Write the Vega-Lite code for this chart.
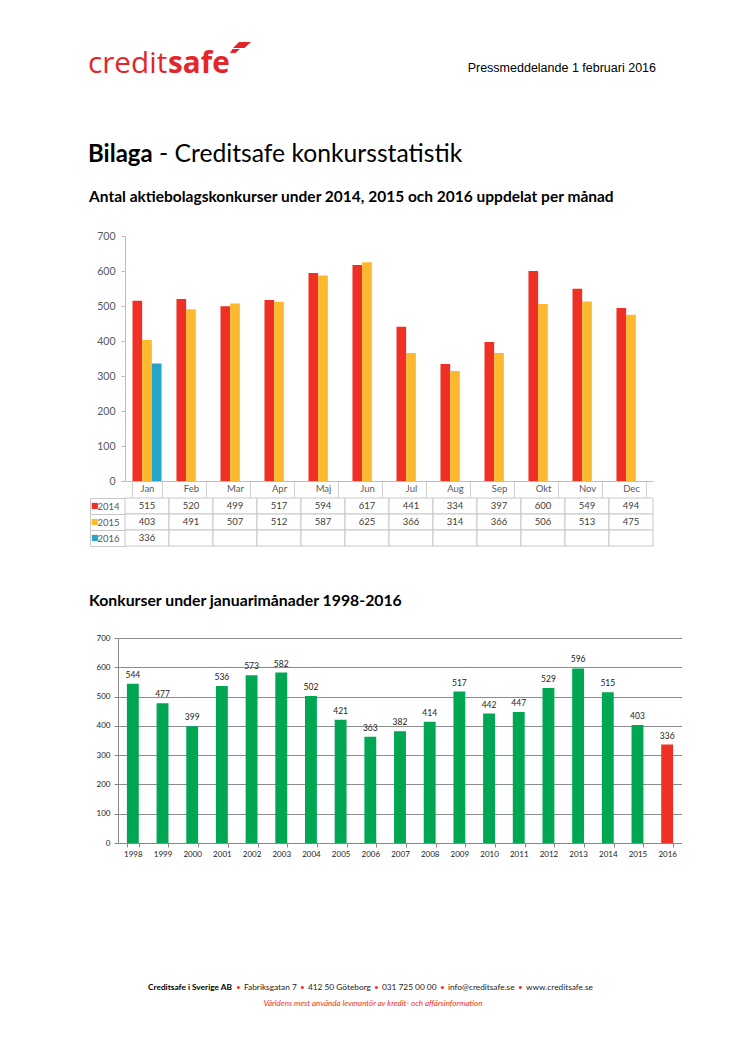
{
  "$schema": "https://vega.github.io/schema/vega-lite/v6.json",
  "padding": {"left": 88, "top": 42, "right": 0, "bottom": 0},
  "autosize": {"type": "pad"},
  "background": "#ffffff",
  "config": {
    "view": {"stroke": null},
    "title": {"offset": 0, "baseline": "alphabetic", "anchor": "start", "frame": "group"}
  },
  "datasets": {
    "blank": [{}],
    "monthly": [
      {"month": "Jan", "year": "2014", "value": 515}, {"month": "Feb", "year": "2014", "value": 520},
      {"month": "Mar", "year": "2014", "value": 499}, {"month": "Apr", "year": "2014", "value": 517},
      {"month": "Maj", "year": "2014", "value": 594}, {"month": "Jun", "year": "2014", "value": 617},
      {"month": "Jul", "year": "2014", "value": 441}, {"month": "Aug", "year": "2014", "value": 334},
      {"month": "Sep", "year": "2014", "value": 397}, {"month": "Okt", "year": "2014", "value": 600},
      {"month": "Nov", "year": "2014", "value": 549}, {"month": "Dec", "year": "2014", "value": 494},
      {"month": "Jan", "year": "2015", "value": 403}, {"month": "Feb", "year": "2015", "value": 491},
      {"month": "Mar", "year": "2015", "value": 507}, {"month": "Apr", "year": "2015", "value": 512},
      {"month": "Maj", "year": "2015", "value": 587}, {"month": "Jun", "year": "2015", "value": 625},
      {"month": "Jul", "year": "2015", "value": 366}, {"month": "Aug", "year": "2015", "value": 314},
      {"month": "Sep", "year": "2015", "value": 366}, {"month": "Okt", "year": "2015", "value": 506},
      {"month": "Nov", "year": "2015", "value": 513}, {"month": "Dec", "year": "2015", "value": 475},
      {"month": "Jan", "year": "2016", "value": 336}, {"month": "Feb", "year": "2016", "value": null},
      {"month": "Mar", "year": "2016", "value": null}, {"month": "Apr", "year": "2016", "value": null},
      {"month": "Maj", "year": "2016", "value": null}, {"month": "Jun", "year": "2016", "value": null},
      {"month": "Jul", "year": "2016", "value": null}, {"month": "Aug", "year": "2016", "value": null},
      {"month": "Sep", "year": "2016", "value": null}, {"month": "Okt", "year": "2016", "value": null},
      {"month": "Nov", "year": "2016", "value": null}, {"month": "Dec", "year": "2016", "value": null}
    ],
    "jan": [
      {"year": "1998", "value": 544}, {"year": "1999", "value": 477}, {"year": "2000", "value": 399},
      {"year": "2001", "value": 536}, {"year": "2002", "value": 573}, {"year": "2003", "value": 582},
      {"year": "2004", "value": 502}, {"year": "2005", "value": 421}, {"year": "2006", "value": 363},
      {"year": "2007", "value": 382}, {"year": "2008", "value": 414}, {"year": "2009", "value": 517},
      {"year": "2010", "value": 442}, {"year": "2011", "value": 447}, {"year": "2012", "value": 529},
      {"year": "2013", "value": 596}, {"year": "2014", "value": 515}, {"year": "2015", "value": 403},
      {"year": "2016", "value": 336}
    ]
  },
  "spacing": 0,
  "vconcat": [
    {
      "spacing": 0,
      "hconcat": [
        {"width": 1, "height": 1, "data": {"name": "blank"}, "mark": {"type": "text", "text": "", "fontSize": 0.1}, "encoding": {},
         "title": {"text": "credit", "dy": 6, "font": "Open Sans", "fontSize": 29.7, "fontWeight": "normal", "color": "#E3262A"}},
        {"width": 1, "height": 1, "data": {"name": "blank"}, "mark": {"type": "text", "text": "", "fontSize": 0.1}, "encoding": {},
         "title": {"text": "safe", "dy": 6, "font": "Open Sans", "fontSize": 29.7, "fontWeight": "bold", "color": "#E3262A"}},
        {"width": 1, "height": 1, "data": {"name": "blank"},
         "mark": {"type": "point", "filled": true, "color": "#E3262A", "opacity": 1, "size": 400, "strokeWidth": 0,
                  "shape": "M 0.85 -3.65 L 2.05 -3.65 L 1.4 -3.05 L 0.25 -3.05 Z M 0.2 -2.95 L 0.95 -2.95 L 0.5 -2.55 L -0.05 -2.55 Z"},
         "encoding": {}},
        {"width": 405, "height": 64, "data": {"name": "blank"}, "mark": {"type": "text", "text": "", "fontSize": 0.1}, "encoding": {},
         "title": {"text": "Pressmeddelande 1 februari 2016", "anchor": "end", "font": "Liberation Sans", "fontSize": 12.5, "fontWeight": "normal", "color": "#000000"}}
      ]
    },
    {
      "spacing": 6,
      "hconcat": [
        {"width": 1, "height": 18, "data": {"name": "blank"}, "mark": {"type": "text", "text": "", "fontSize": 0.1}, "encoding": {},
         "title": {"text": "Bilaga", "font": "Lato", "fontSize": 24, "fontWeight": "bold", "color": "#000000"}},
        {"width": 1, "height": 18, "data": {"name": "blank"}, "mark": {"type": "text", "text": "", "fontSize": 0.1}, "encoding": {},
         "title": {"text": "- Creditsafe konkursstatistik", "font": "Lato", "fontSize": 24.7, "fontWeight": "normal", "color": "#000000"}}
      ]
    },
    {
      "spacing": 0,
      "hconcat": [
        {"width": 1, "height": 1, "data": {"name": "blank"}, "mark": {"type": "text", "text": "", "fontSize": 0.1}, "encoding": {}},
        {
          "spacing": -6,
          "vconcat": [
            {
              "title": {"text": "Antal aktiebolagskonkurser under 2014, 2015 och 2016 uppdelat per månad", "dx": -36, "offset": 26,
                        "font": "Lato", "fontSize": 15.5, "fontWeight": "bold", "color": "#000000"},
              "width": 528,
              "height": 245,
              "data": {"name": "monthly"},
              "mark": {"type": "bar"},
              "encoding": {
                "x": {"field": "month", "type": "nominal",
                      "sort": ["Jan", "Feb", "Mar", "Apr", "Maj", "Jun", "Jul", "Aug", "Sep", "Okt", "Nov", "Dec"],
                      "scale": {"paddingInner": 0.34, "paddingOuter": 0.17},
                      "axis": {"title": null, "labelAngle": 0, "tickBand": "extent", "tickSize": 16, "tickColor": "#D0D0D0",
                               "domainColor": "#BFBFBF", "labelPadding": -14, "labelBaseline": "top", "labelFont": "Lato",
                               "labelFontSize": 9.5, "labelColor": "#595959"}},
                "xOffset": {"field": "year", "type": "nominal", "scale": {"domain": ["2014", "2015", "2016"], "paddingInner": 0, "paddingOuter": 0}},
                "y": {"field": "value", "type": "quantitative", "scale": {"domain": [0, 700]},
                      "axis": {"title": null, "values": [0, 100, 200, 300, 400, 500, 600, 700], "grid": false, "tickSize": 4,
                               "tickColor": "#BFBFBF", "domainColor": "#BFBFBF", "labelPadding": 6, "labelFont": "Lato",
                               "labelFontSize": 10.5, "labelColor": "#595959"}},
                "color": {"field": "year", "type": "nominal",
                          "scale": {"domain": ["2014", "2015", "2016"], "range": ["#EE3124", "#FDB92E", "#27A5C9"]}, "legend": null}
              }
            },
            {
              "width": 528,
              "height": 48,
              "data": {"name": "monthly"},
              "layer": [
                {
                  "mark": {"type": "rect", "fill": "#ffffff", "stroke": "#C8C8C8", "strokeWidth": 1},
                  "encoding": {
                    "x": {"field": "month", "type": "nominal",
                          "sort": ["Jan", "Feb", "Mar", "Apr", "Maj", "Jun", "Jul", "Aug", "Sep", "Okt", "Nov", "Dec"],
                          "scale": {"paddingInner": 0, "paddingOuter": 0}, "axis": null},
                    "y": {"field": "year", "type": "nominal", "sort": ["2014", "2015", "2016"],
                          "scale": {"paddingInner": 0, "paddingOuter": 0},
                          "axis": {"title": null, "orient": "left", "domain": false, "tickBand": "extent", "tickSize": 35,
                                   "tickColor": "#C8C8C8", "labelPadding": -29, "labelFont": "Lato", "labelFontSize": 9.5,
                                   "labelColor": "#595959"}}
                  }
                },
                {
                  "transform": [{"filter": "isValid(datum.value)"}],
                  "mark": {"type": "text", "font": "Lato", "fontSize": 9.5, "color": "#404040"},
                  "encoding": {
                    "x": {"field": "month", "type": "nominal",
                          "sort": ["Jan", "Feb", "Mar", "Apr", "Maj", "Jun", "Jul", "Aug", "Sep", "Okt", "Nov", "Dec"]},
                    "y": {"field": "year", "type": "nominal", "sort": ["2014", "2015", "2016"],
                          "axis": {"title": null, "orient": "left", "offset": 35, "domain": true, "domainColor": "#C8C8C8",
                                   "ticks": false, "tickSize": 0, "labelExpr": "'■'", "labelPadding": -8, "labelFont": "DejaVu Sans",
                                   "labelFontSize": 8,
                                   "labelColor": {"condition": [{"test": "datum.value === '2014'", "value": "#EE3124"},
                                                                {"test": "datum.value === '2015'", "value": "#FDB92E"}],
                                                  "value": "#27A5C9"}}},
                    "text": {"field": "value", "type": "quantitative"}
                  }
                }
              ],
              "resolve": {"axis": {"y": "independent"}}
            }
          ]
        }
      ]
    },
    {"width": 1, "height": 46, "data": {"name": "blank"}, "mark": {"type": "text", "text": "", "fontSize": 0.1}, "encoding": {}},
    {
      "spacing": 0,
      "hconcat": [
        {"width": 1, "height": 1, "data": {"name": "blank"}, "mark": {"type": "text", "text": "", "fontSize": 0.1}, "encoding": {}},
        {
          "title": {"text": "Konkurser under januarimånader 1998-2016", "dx": -29, "offset": 24,
                    "font": "Lato", "fontSize": 15.8, "fontWeight": "bold", "color": "#000000"},
          "width": 564,
          "height": 205,
          "data": {"name": "jan"},
          "encoding": {
            "x": {"field": "year", "type": "ordinal", "scale": {"paddingInner": 0.6, "paddingOuter": 0.3},
                  "axis": {"title": null, "labelAngle": 0, "tickBand": "extent", "tickSize": 4, "tickColor": "#888888",
                           "domainColor": "#888888", "labelFont": "Lato", "labelFontSize": 8, "labelColor": "#222222", "labelPadding": 3}},
            "y": {"field": "value", "type": "quantitative", "scale": {"domain": [0, 700]},
                  "axis": {"title": null, "values": [0, 100, 200, 300, 400, 500, 600, 700], "grid": true, "gridColor": "#8C8C8C",
                           "tickSize": 4, "tickColor": "#888888", "domainColor": "#888888", "labelFont": "Lato", "labelFontSize": 8,
                           "labelColor": "#222222", "labelPadding": 4}}
          },
          "layer": [
            {"mark": {"type": "bar"},
             "encoding": {"color": {"condition": {"test": "datum.year === '2016'", "value": "#EE3124"}, "value": "#00A651"}}},
            {"mark": {"type": "text", "baseline": "bottom", "dy": -4, "font": "Lato", "fontSize": 8.5, "color": "#222222"},
             "encoding": {"text": {"field": "value", "type": "quantitative"}}}
          ]
        }
      ]
    },
    {"width": 1, "height": 124, "data": {"name": "blank"}, "mark": {"type": "text", "text": "", "fontSize": 0.1}, "encoding": {}},
    {
      "spacing": 3,
      "hconcat": [
        {"width": 57, "height": 5, "data": {"name": "blank"}, "mark": {"type": "text", "text": "", "fontSize": 0.1}, "encoding": {}},
        {"width": 1, "height": 5, "data": {"name": "blank"}, "mark": {"type": "text", "text": "", "fontSize": 0.1}, "encoding": {},
         "title": {"text": "Creditsafe i Sverige AB", "font": "Lato", "fontSize": 8.3, "fontWeight": "bold", "color": "#000000"}},
        {"width": 1, "height": 5, "data": {"name": "blank"}, "mark": {"type": "text", "text": "", "fontSize": 0.1}, "encoding": {},
         "title": {"text": "•", "font": "Lato", "fontSize": 8.3, "fontWeight": "normal", "color": "#EE3124"}},
        {"width": 1, "height": 5, "data": {"name": "blank"}, "mark": {"type": "text", "text": "", "fontSize": 0.1}, "encoding": {},
         "title": {"text": "Fabriksgatan 7", "font": "Lato", "fontSize": 8.3, "fontWeight": "normal", "color": "#222222"}},
        {"width": 1, "height": 5, "data": {"name": "blank"}, "mark": {"type": "text", "text": "", "fontSize": 0.1}, "encoding": {},
         "title": {"text": "•", "font": "Lato", "fontSize": 8.3, "fontWeight": "normal", "color": "#EE3124"}},
        {"width": 1, "height": 5, "data": {"name": "blank"}, "mark": {"type": "text", "text": "", "fontSize": 0.1}, "encoding": {},
         "title": {"text": "412 50 Göteborg", "font": "Lato", "fontSize": 8.3, "fontWeight": "normal", "color": "#222222"}},
        {"width": 1, "height": 5, "data": {"name": "blank"}, "mark": {"type": "text", "text": "", "fontSize": 0.1}, "encoding": {},
         "title": {"text": "•", "font": "Lato", "fontSize": 8.3, "fontWeight": "normal", "color": "#EE3124"}},
        {"width": 1, "height": 5, "data": {"name": "blank"}, "mark": {"type": "text", "text": "", "fontSize": 0.1}, "encoding": {},
         "title": {"text": "031 725 00 00", "font": "Lato", "fontSize": 8.3, "fontWeight": "normal", "color": "#222222"}},
        {"width": 1, "height": 5, "data": {"name": "blank"}, "mark": {"type": "text", "text": "", "fontSize": 0.1}, "encoding": {},
         "title": {"text": "•", "font": "Lato", "fontSize": 8.3, "fontWeight": "normal", "color": "#EE3124"}},
        {"width": 1, "height": 5, "data": {"name": "blank"}, "mark": {"type": "text", "text": "", "fontSize": 0.1}, "encoding": {},
         "title": {"text": "info@creditsafe.se", "font": "Lato", "fontSize": 8.3, "fontWeight": "normal", "color": "#222222"}},
        {"width": 1, "height": 5, "data": {"name": "blank"}, "mark": {"type": "text", "text": "", "fontSize": 0.1}, "encoding": {},
         "title": {"text": "•", "font": "Lato", "fontSize": 8.3, "fontWeight": "normal", "color": "#EE3124"}},
        {"width": 1, "height": 5, "data": {"name": "blank"}, "mark": {"type": "text", "text": "", "fontSize": 0.1}, "encoding": {},
         "title": {"text": "www.creditsafe.se", "font": "Lato", "fontSize": 8.3, "fontWeight": "normal", "color": "#222222"}}
      ]
    },
    {"width": 570, "height": 1, "data": {"name": "blank"}, "mark": {"type": "text", "text": "", "fontSize": 0.1}, "encoding": {},
     "title": {"text": "Världens mest använda leverantör av kredit- och affärsinformation", "anchor": "middle", "font": "Lato",
               "fontSize": 8, "fontStyle": "italic", "fontWeight": "normal", "color": "#EE3124"}}
  ]
}
